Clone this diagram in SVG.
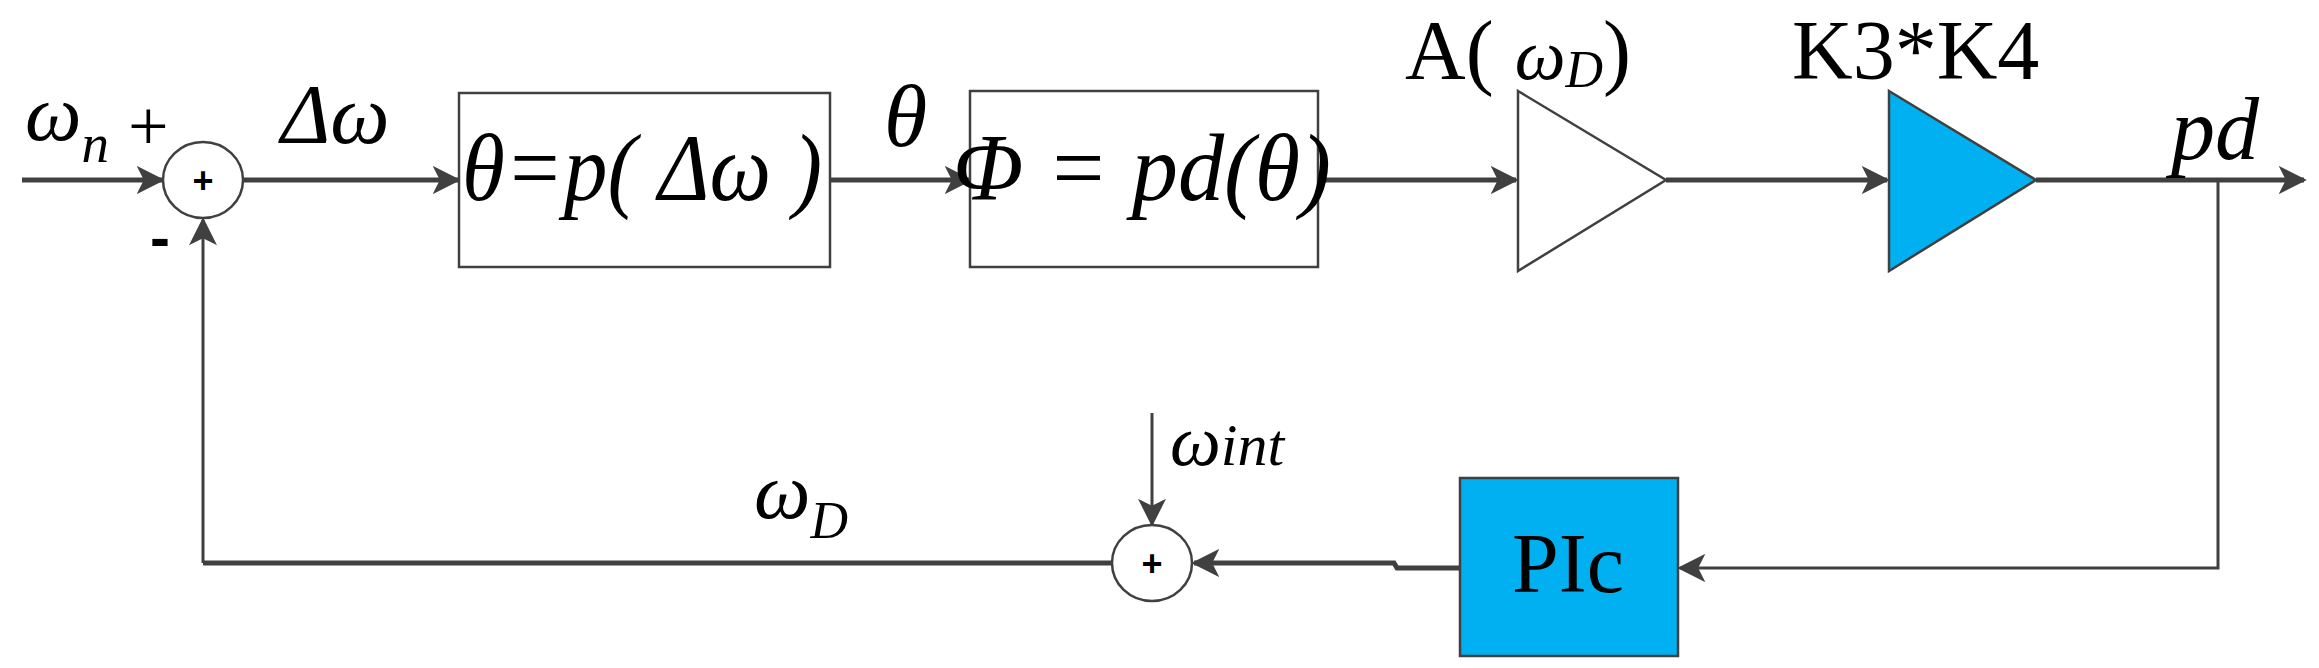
<svg xmlns="http://www.w3.org/2000/svg" width="2319" height="668" viewBox="0 0 2319 668">
<style>
.ln{fill:none;stroke:#404040;stroke-width:5}
.thin{fill:none;stroke:#404040;stroke-width:3}
.box{fill:#fff;stroke:#404040;stroke-width:2.5}
.blue{fill:#00B0F0;stroke:#404040;stroke-width:2.5}
.t{font-family:"Liberation Serif",serif;fill:#000}
.i{font-style:italic}
.s{font-family:"Liberation Sans",sans-serif;font-weight:bold;fill:#000}
</style>
<defs>
<marker id="ar" markerWidth="10" markerHeight="10" refX="9" refY="5" orient="auto" markerUnits="userSpaceOnUse" viewBox="0 0 10 10">
<path d="M0,0 L10,5 L0,10 L2.5,5 Z" fill="#404040"/>
</marker>
<marker id="ab" viewBox="0 0 10 10" refX="9" refY="5" markerWidth="28" markerHeight="28" orient="auto" markerUnits="userSpaceOnUse">
<path d="M0,0 L10,5 L0,10 L2.5,5 Z" fill="#404040"/>
</marker>
</defs>
<g id="connectors">
<line class="ln" x1="22" y1="180" x2="162" y2="180" marker-end="url(#ab)"/>
<line class="ln" x1="243" y1="180" x2="458" y2="180" marker-end="url(#ab)"/>
<line class="ln" x1="830" y1="180" x2="970" y2="180" marker-end="url(#ab)"/>
<line class="ln" x1="1318" y1="180" x2="1516" y2="180" marker-end="url(#ab)"/>
<line class="ln" x1="1666" y1="180" x2="1887" y2="180" marker-end="url(#ab)"/>
<line class="ln" x1="2036" y1="180" x2="2304" y2="180" marker-end="url(#ab)"/>
<polyline class="thin" points="2218,180 2218,568 1680,568" marker-end="url(#ab)"/>
<polyline class="ln" points="1460,568 1397,568 1394,563 1194,563" marker-end="url(#ab)"/>
<polyline class="ln" points="1112,563 203,563"/>
<line class="thin" x1="203" y1="563" x2="203" y2="220" marker-end="url(#ab)"/>
<line class="thin" x1="1152" y1="413" x2="1152" y2="524" marker-end="url(#ab)"/>
</g>
<g id="sum1"><ellipse cx="203" cy="180" rx="40" ry="38" class="box"/><text x="203" y="193" class="s" font-size="36" text-anchor="middle">+</text></g>
<g id="sum2"><ellipse cx="1152" cy="563" rx="40" ry="38" class="box"/><text x="1152" y="576" class="s" font-size="36" text-anchor="middle">+</text></g>
<g id="block1"><rect x="459" y="93" width="371" height="174" class="box"/>
<text x="462" y="200" class="t i" font-size="95" textLength="360" lengthAdjust="spacingAndGlyphs">θ=p( Δω )</text></g>
<g id="block2"><rect x="970" y="91" width="348" height="176" class="box"/>
<text x="953" y="200" class="t i" font-size="95" textLength="378" lengthAdjust="spacingAndGlyphs">Φ = pd(θ)</text></g>
<g id="gainA"><polygon points="1518,91 1666,180 1518,271" class="box"/></g>
<g id="gainK"><polygon points="1889,91 2036,180 1889,271" class="blue"/></g>
<g id="pic"><rect x="1460" y="478" width="218" height="178" class="blue"/>
<text x="1568" y="592" class="t" font-size="84" text-anchor="middle">PIc</text></g>
<g id="labels">
<text x="25" y="140" class="t i" font-size="80">ω<tspan font-size="55" dy="22">n</tspan></text>
<text x="128" y="150" class="t" font-size="72">+</text>
<text x="150" y="258" class="s" font-size="60">-</text>
<text x="281" y="143" class="t i" font-size="84">Δω</text>
<text x="884" y="146" class="t i" font-size="88">θ</text>
<text x="1405" y="79" class="t" font-size="84">A( <tspan class="i" font-size="72">ω</tspan><tspan class="i" font-size="52" dy="8">D</tspan><tspan dy="-8">)</tspan></text>
<text x="1792" y="79" class="t" font-size="84">K3*K4</text>
<text x="2171" y="159" class="t i" font-size="88">pd</text>
<text x="1170" y="465" class="t i" font-size="72">ω<tspan font-size="60">int</tspan></text>
<text x="754" y="518" class="t i" font-size="80">ω<tspan font-size="52" dy="20">D</tspan></text>
</g>
</svg>
